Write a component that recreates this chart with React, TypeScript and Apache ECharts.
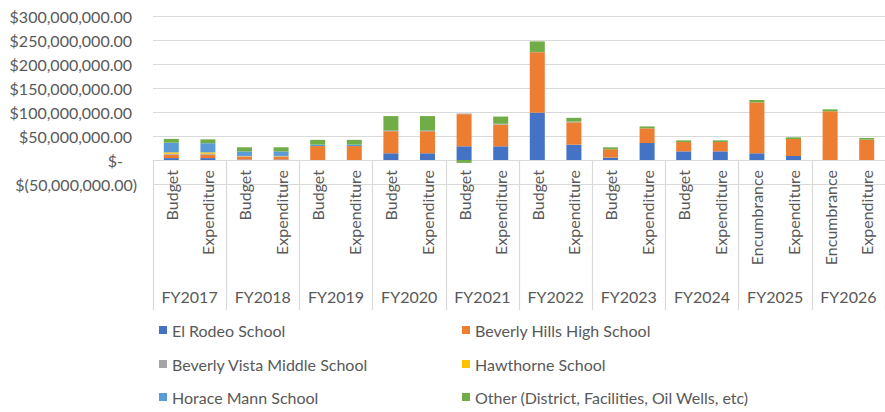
import React, { useEffect, useRef } from "react";
import * as echarts from "echarts";

const M = 1e6;
const CATEGORIES = [
  "Budget", "Expenditure", "Budget", "Expenditure", "Budget", "Expenditure",
  "Budget", "Expenditure", "Budget", "Expenditure", "Budget", "Expenditure",
  "Budget", "Expenditure", "Budget", "Expenditure", "Encumbrance", "Expenditure",
  "Encumbrance", "Expenditure",
];
const FISCAL_YEARS = ["FY2017", "FY2018", "FY2019", "FY2020", "FY2021", "FY2022", "FY2023", "FY2024", "FY2025", "FY2026"];

const EL_RODEO = [4, 4, 1, 1, 0, 0, 14, 14, 28.5, 28.5, 98.6, 32, 5, 35.4, 18, 18, 14, 8.3, 0, 0];
const BEVERLY_HILLS_HS = [7, 7, 6, 6, 29, 29, 46, 46, 67, 45, 126, 46.5, 17.4, 30.5, 19.4, 19.4, 106, 35.4, 101.5, 42.4];
const BEVERLY_VISTA_MS = [2, 2, 1, 1, 0, 0, 0.5, 0.5, 1.4, 2, 0.5, 1.4, 0, 0, 0, 0, 0, 0, 0, 0];
const HAWTHORNE = [3, 3, 0.5, 0.5, 0, 0, 0, 0, 0, 0, 0, 0, 0, 0, 0, 0, 0, 0, 0, 0];
const HORACE_MANN = [20, 19, 9.5, 9.5, 3, 3, 1, 1, 0, 0, 0, 0, 0, 0, 0, 0, 0, 0, 0, 0];
const OTHER = [8, 8, 8.5, 8.5, 10, 10, 30, 30, -6, 15, 22, 8, 4, 4, 3.5, 3.5, 5, 3.5, 4, 3.5];

const SERIES_NAMES = [
  "El Rodeo School",
  "Beverly Hills High School",
  "Beverly Vista Middle School",
  "Hawthorne School",
  "Horace Mann School",
  "Other (District, Facilities, Oil Wells, etc)",
];
const SERIES_VALUES = [EL_RODEO, BEVERLY_HILLS_HS, BEVERLY_VISTA_MS, HAWTHORNE, HORACE_MANN, OTHER];
const COLORS = ["#4472C4", "#ED7D31", "#A5A5A5", "#FFC000", "#5B9BD5", "#70AD47"];

// legend grid: two columns, three rows
const LEGEND_COLS = [154, 457];
const LEGEND_ROWS = [317, 351, 384];

const FONT = "Lato";
const TEXT_COLOR = "#595959";
const LINE_COLOR = "#D9D9D9";

function fmt(v: number): string {
  return Math.abs(v).toLocaleString("en-US", { minimumFractionDigits: 2, maximumFractionDigits: 2 });
}

export default function App() {
  const ref = useRef<HTMLDivElement>(null);
  useEffect(() => {
    if (!ref.current) return;
    const chart = echarts.init(ref.current, null, { renderer: "svg" });
    const legendText = { fontFamily: FONT, fontSize: 16, color: TEXT_COLOR };
    chart.setOption({
      animation: false,
      textStyle: { fontFamily: FONT },
      grid: { left: 153, top: 16, width: 742, height: 168, containLabel: false },
      legend: SERIES_NAMES.map((name, i) => ({
        orient: "horizontal",
        left: LEGEND_COLS[i % 2],
        top: LEGEND_ROWS[Math.floor(i / 2)],
        itemWidth: 8,
        itemHeight: 8,
        itemGap: 0,
        icon: "rect",
        selectedMode: false,
        textStyle: legendText,
        data: [name],
      })),
      xAxis: [
        {
          type: "category",
          data: CATEGORIES,
          position: "bottom",
          offset: -24,
          axisLine: { show: true, onZero: false, lineStyle: { color: LINE_COLOR, width: 1.2 } },
          axisTick: { show: false },
          axisLabel: {
            rotate: 90,
            margin: 10,
            fontFamily: FONT,
            fontSize: 16,
            color: TEXT_COLOR,
            interval: 0,
          },
          splitLine: { show: false },
        },
        {
          type: "category",
          data: FISCAL_YEARS,
          position: "bottom",
          offset: -24,
          axisLine: { show: false, onZero: false },
          axisTick: { show: true, length: 150, lineStyle: { color: LINE_COLOR, width: 1.2 } },
          axisLabel: {
            margin: 128,
            fontFamily: FONT,
            fontSize: 16,
            color: TEXT_COLOR,
            interval: 0,
          },
          splitLine: { show: false },
        },
      ],
      yAxis: {
        type: "value",
        min: -50 * M,
        max: 300 * M,
        interval: 50 * M,
        axisLine: { show: false },
        axisTick: { show: false },
        splitLine: { show: true, lineStyle: { color: LINE_COLOR, width: 1.2 } },
        axisLabel: {
          margin: 16,
          fontFamily: FONT,
          fontSize: 16,
          color: TEXT_COLOR,
          formatter: (v: number) => {
            if (v === 0) return "{z|$-}";
            if (v < 0) return "{n|$(" + fmt(v) + ")}";
            return "{p|$" + fmt(v) + "}";
          },
          rich: {
            z: { fontFamily: FONT, fontSize: 16, color: TEXT_COLOR, padding: [0, 14, 0, 0] },
            n: { fontFamily: FONT, fontSize: 16, color: TEXT_COLOR },
            p: { fontFamily: FONT, fontSize: 16, color: TEXT_COLOR, padding: [0, 5, 0, 0] },
          },
        },
      },
      series: SERIES_NAMES.map((name, i) => ({
        name,
        type: "bar",
        stack: "total",
        xAxisIndex: 0,
        barWidth: 15,
        itemStyle: { color: COLORS[i] },
        data: SERIES_VALUES[i].map((v) => v * M),
      })),
    });
    return () => chart.dispose();
  }, []);
  return (
    <div
      ref={ref}
      style={{ position: "fixed", left: 0, top: 0, width: 885, height: 412, background: "#fff" }}
    />
  );
}
